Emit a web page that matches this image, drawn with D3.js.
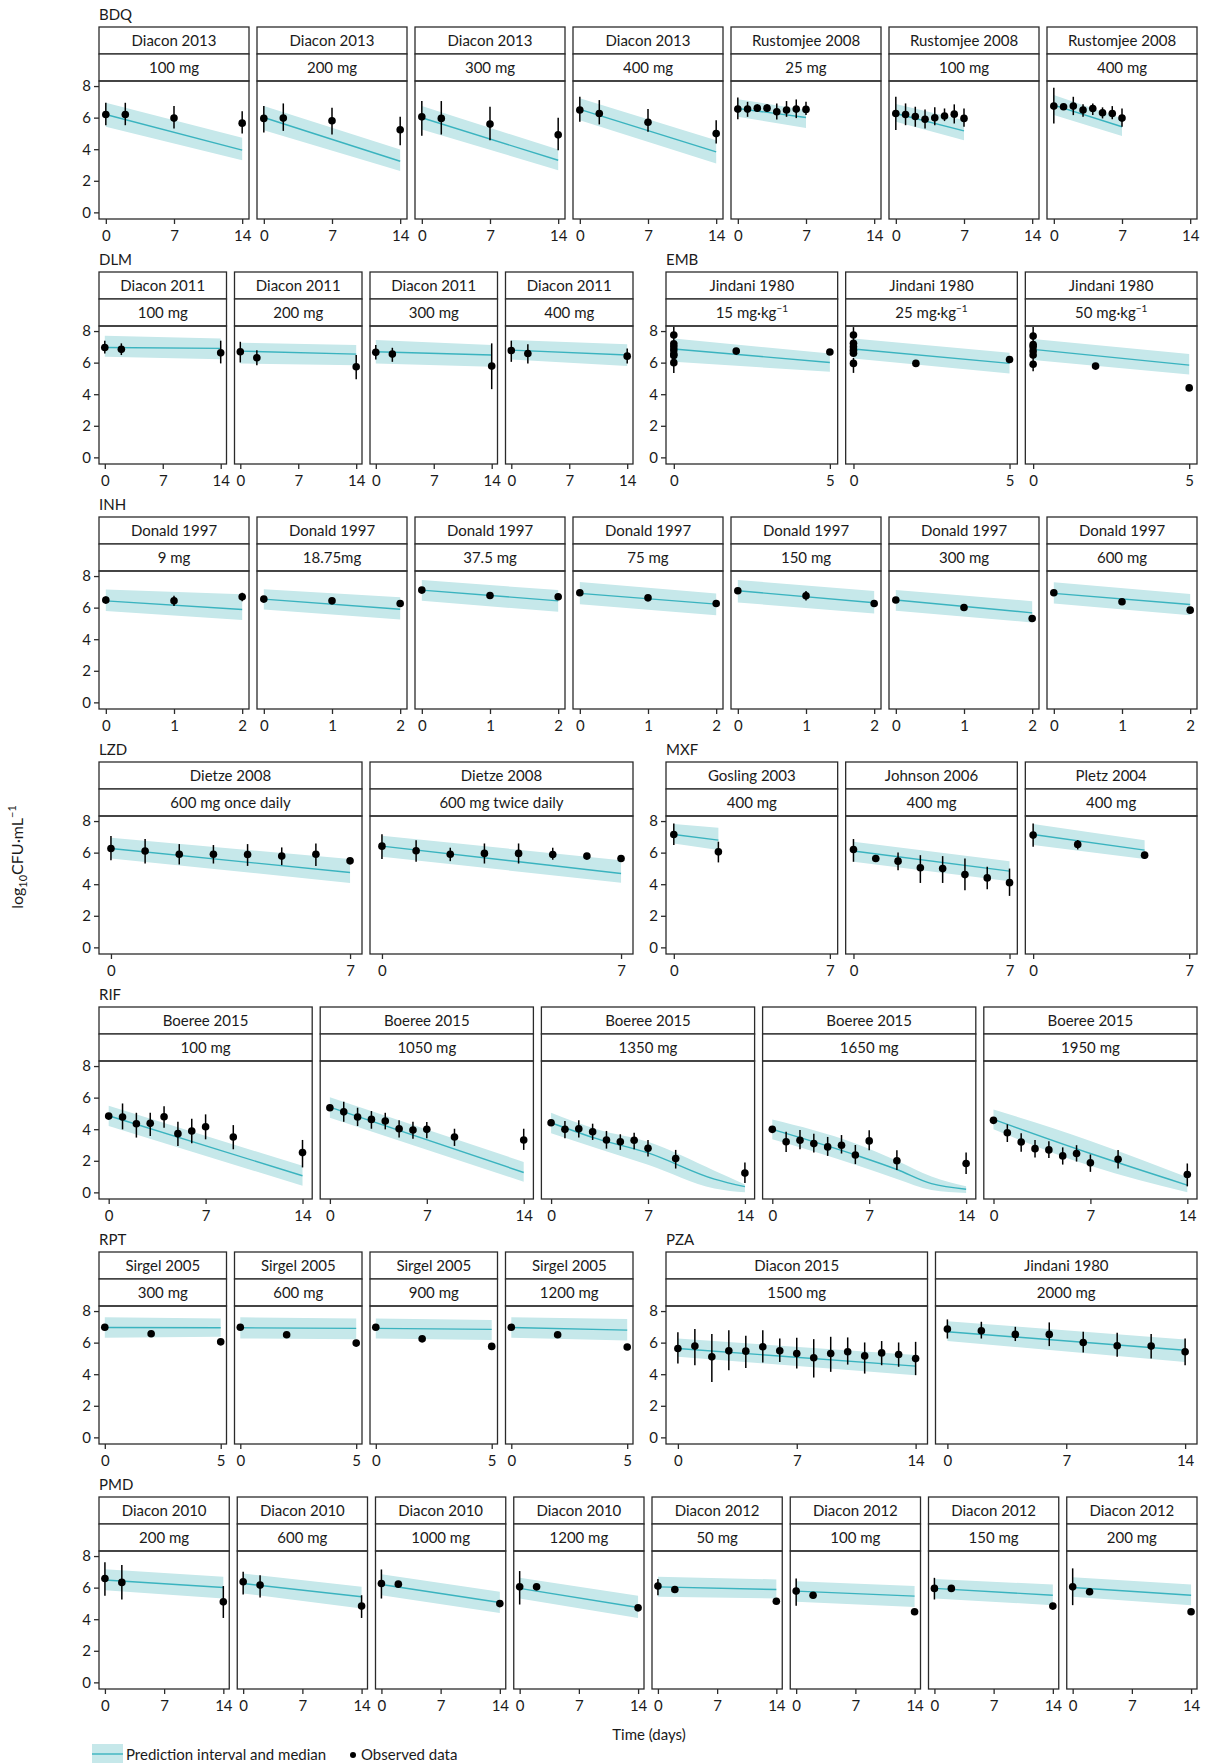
<!DOCTYPE html>
<html><head><meta charset="utf-8">
<script src="https://cdn.jsdelivr.net/npm/d3@7"></script>
<style>
body{margin:0;background:#fff}
svg{display:block}
text{font-family:Lato,"Liberation Sans",sans-serif;fill:#1a1a1a}
</style>
</head><body>
<svg id="c" width="1206" height="1763"></svg>
<script>
// ---------------- DATA ----------------
// obs: [day, value, low, high]   pred: [day, lower, median, upper]  (log10 CFU/mL)
const yTicks = [0, 2, 4, 6, 8];
const ticks14 = [0, 7, 14], ticks7 = [0, 7], ticks5 = [0, 5], ticks2 = [0, 1, 2];

const BDQ = [
  {study:"Diacon 2013", dose:"100 mg", xTicks:ticks14,
   obs:[[0,6.2,5.52,6.94],[2,6.2,5.52,6.94],[7,5.97,5.31,6.73],[14,5.65,4.99,6.41]],
   pred:[[0,5.42,6.2,6.94],[14,3.3,3.94,4.72]]},
  {study:"Diacon 2013", dose:"200 mg", xTicks:ticks14,
   obs:[[0,5.95,5.06,6.73],[2,5.97,5.16,6.9],[7,5.8,4.93,6.62],[14,5.23,4.25,6.05]],
   pred:[[0,5.2,6.01,6.73],[14,2.62,3.24,3.98]]},
  {study:"Diacon 2013", dose:"300 mg", xTicks:ticks14,
   obs:[[0,6.05,4.85,7.05],[2,5.95,4.93,7.05],[7,5.59,4.57,6.69],[14,4.91,3.94,5.99]],
   pred:[[0,5.25,5.99,6.73],[14,2.67,3.3,3.98]]},
  {study:"Diacon 2013", dose:"400 mg", xTicks:ticks14,
   obs:[[0,6.48,5.74,7.32],[2,6.26,5.57,7.11],[7,5.71,5.1,6.54],[14,4.99,4.36,5.84]],
   pred:[[0,5.84,6.52,7.22],[14,3.09,3.83,4.57]]},
  {study:"Rustomjee 2008", dose:"25 mg", xTicks:ticks14,
   obs:[[0,6.54,5.9,7.28],[1,6.54,6.05,7.0],[2,6.6,6.37,6.84],[3,6.6,6.37,6.84],[4,6.37,5.88,6.9],[5,6.48,6.05,7.05],[6,6.54,5.97,7.15],[7,6.52,6.16,7.0]],
   pred:[[0,6.05,6.58,7.17],[7,5.35,6.01,6.48]]},
  {study:"Rustomjee 2008", dose:"100 mg", xTicks:ticks14,
   obs:[[0,6.26,5.21,7.32],[1,6.2,5.52,6.9],[2,6.07,5.42,6.69],[3,5.9,5.31,6.52],[4,5.99,5.52,6.65],[5,6.1,5.78,6.58],[6,6.22,5.63,6.84],[7,5.95,5.42,6.58]],
   pred:[[0,5.74,6.26,6.86],[7,4.57,5.16,5.84]]},
  {study:"Rustomjee 2008", dose:"400 mg", xTicks:ticks14,
   obs:[[0,6.73,5.63,7.89],[1,6.69,6.6,6.8],[2,6.73,6.16,7.32],[3,6.48,6.05,6.84],[4,6.58,6.16,6.9],[5,6.31,5.95,6.65],[6,6.26,5.9,6.73],[7,5.97,5.42,6.58]],
   pred:[[0,6.16,6.79,7.43],[7,4.83,5.42,5.95]]}
];

const DLM = [
  {study:"Diacon 2011", dose:"100 mg", xTicks:ticks14,
   obs:[[0,6.96,6.58,7.39],[2,6.84,6.48,7.22],[14,6.62,5.95,7.39]],
   pred:[[0,6.37,6.96,7.7],[14,6.22,6.9,7.53]]},
  {study:"Diacon 2011", dose:"200 mg", xTicks:ticks14,
   obs:[[0,6.69,6.01,7.32],[2,6.31,5.84,6.79],[14,5.74,4.95,6.48]],
   pred:[[0,5.95,6.73,7.26],[14,5.84,6.54,7.11]]},
  {study:"Diacon 2011", dose:"300 mg", xTicks:ticks14,
   obs:[[0,6.65,6.2,7.11],[2,6.54,6.05,6.94],[14,5.78,4.32,7.22]],
   pred:[[0,5.95,6.69,7.43],[14,5.74,6.48,7.11]]},
  {study:"Diacon 2011", dose:"400 mg", xTicks:ticks14,
   obs:[[0,6.77,6.05,7.39],[2,6.58,5.95,7.17],[14,6.41,5.95,6.9]],
   pred:[[0,6.2,6.79,7.43],[14,5.78,6.48,7.17]]}
];

const EMB = [
  {study:"Jindani 1980", dose:"15 mg·kg⁻¹", xTicks:ticks5,
   obs:[[0,7.75,7.3,8.27],[0,7.2,7.2,7.2],[0,7.0,7.0,7.0],[0,6.8,6.8,6.8],[0,6.55,6.55,6.55],[0,6.45,6.45,6.45],[0,6.0,5.35,6.4],[2,6.73,6.73,6.73],[5,6.67,6.67,6.67]],
   pred:[[0,6.05,6.86,7.53],[5,5.42,6.01,6.58]]},
  {study:"Jindani 1980", dose:"25 mg·kg⁻¹", xTicks:ticks5,
   obs:[[0,7.75,7.3,8.25],[0,7.22,7.22,7.22],[0,7.0,7.0,7.0],[0,6.79,6.79,6.79],[0,6.6,6.6,6.6],[0,5.95,5.35,6.3],[2,5.95,5.95,5.95],[5,6.2,6.2,6.2]],
   pred:[[0,6.26,6.86,7.53],[5,5.31,5.95,6.62]]},
  {study:"Jindani 1980", dose:"50 mg·kg⁻¹", xTicks:ticks5,
   obs:[[0,7.68,7.3,8.25],[0,7.15,7.15,7.15],[0,7.0,7.0,7.0],[0,6.73,6.73,6.73],[0,6.48,6.48,6.48],[0,5.9,5.45,6.3],[2,5.78,5.78,5.78],[5,4.4,4.4,4.4]],
   pred:[[0,6.16,6.84,7.49],[5,5.25,5.84,6.54]]}
];

const INH = [
  {study:"Donald 1997", dose:"9 mg", xTicks:ticks2,
   obs:[[0,6.48,6.25,6.7],[1,6.43,6.1,6.75],[2,6.69,6.4,6.95]],
   pred:[[0,5.78,6.43,7.15],[2,5.21,5.88,6.84]]},
  {study:"Donald 1997", dose:"18.75mg", xTicks:ticks2,
   obs:[[0,6.54,6.54,6.54],[1,6.43,6.43,6.43],[2,6.26,6.26,6.26]],
   pred:[[0,5.88,6.54,7.17],[2,5.25,5.9,6.65]]},
  {study:"Donald 1997", dose:"37.5 mg", xTicks:ticks2,
   obs:[[0,7.11,7.11,7.11],[1,6.77,6.77,6.77],[2,6.69,6.69,6.69]],
   pred:[[0,6.43,7.11,7.75],[2,5.74,6.43,7.11]]},
  {study:"Donald 1997", dose:"75 mg", xTicks:ticks2,
   obs:[[0,6.94,6.94,6.94],[1,6.62,6.62,6.62],[2,6.26,6.26,6.26]],
   pred:[[0,6.22,6.9,7.62],[2,5.52,6.22,6.9]]},
  {study:"Donald 1997", dose:"150 mg", xTicks:ticks2,
   obs:[[0,7.07,7.07,7.07],[1,6.75,6.45,7.05],[2,6.26,6.26,6.26]],
   pred:[[0,6.33,7.07,7.75],[2,5.63,6.31,7.05]]},
  {study:"Donald 1997", dose:"300 mg", xTicks:ticks2,
   obs:[[0,6.48,6.48,6.48],[1,6.01,6.01,6.01],[2,5.31,5.31,5.31]],
   pred:[[0,5.8,6.48,7.11],[2,5.06,5.67,6.41]]},
  {study:"Donald 1997", dose:"600 mg", xTicks:ticks2,
   obs:[[0,6.94,6.94,6.94],[1,6.37,6.37,6.37],[2,5.84,5.84,5.84]],
   pred:[[0,6.26,6.9,7.6],[2,5.52,6.2,6.86]]}
];

const LZD = [
  {study:"Dietze 2008", dose:"600 mg once daily", xTicks:ticks7,
   obs:[[0,6.26,5.52,7.05],[1,6.1,5.31,6.86],[2,5.9,5.25,6.54],[3,5.9,5.31,6.48],[4,5.88,5.16,6.54],[5,5.78,5.21,6.33],[6,5.9,5.16,6.58],[7,5.48,5.4,5.6]],
   pred:[[0,5.63,6.26,6.94],[7,4.08,4.74,5.59]]},
  {study:"Dietze 2008", dose:"600 mg twice daily", xTicks:ticks7,
   obs:[[0,6.41,5.59,7.17],[1,6.12,5.42,6.79],[2,5.9,5.46,6.31],[3,5.95,5.31,6.58],[4,5.95,5.31,6.58],[5,5.88,5.55,6.31],[6,5.78,5.6,5.95],[7,5.63,5.55,5.75]],
   pred:[[0,5.74,6.41,7.07],[7,4.1,4.68,5.52]]}
];

const MXF = [
  {study:"Gosling 2003", dose:"400 mg", xTicks:ticks7,
   obs:[[0,7.15,6.48,7.85],[2,6.05,5.38,6.69]],
   pred:[[0,6.58,7.15,7.81],[2,6.16,6.79,7.58]]},
  {study:"Johnson 2006", dose:"400 mg", xTicks:ticks7,
   obs:[[0,6.2,5.42,6.86],[1,5.63,5.55,5.75],[2,5.46,4.89,6.01],[3,5.04,4.08,5.84],[4,4.99,4.08,5.78],[5,4.61,3.62,5.63],[6,4.4,3.68,5.1],[7,4.1,3.26,4.99]],
   pred:[[0,5.42,6.1,6.69],[7,4.19,4.83,5.46]]},
  {study:"Pletz 2004", dose:"400 mg", xTicks:ticks7,
   obs:[[0,7.11,6.37,7.85],[2,6.52,6.2,6.8],[5,5.84,5.6,6.05]],
   pred:[[0,6.48,7.15,7.81],[5,5.59,6.16,6.79]]}
];

const RIF = [
  {study:"Boeree 2015", dose:"100 mg", xTicks:ticks14,
   obs:[[0,4.83,4.7,4.95],[1,4.77,3.99,5.63],[2,4.35,3.47,5.04],[3,4.37,3.57,5.04],[4,4.79,4.1,5.46],[5,3.72,2.94,4.47],[6,3.89,3.11,4.66],[7,4.16,3.36,4.94],[9,3.51,2.73,4.26],[14,2.52,1.58,3.32]],
   pred:[[0,4.2,4.85,5.48],[14,0.42,1.05,1.68]]},
  {study:"Boeree 2015", dose:"1050 mg", xTicks:ticks14,
   obs:[[0,5.36,5.25,5.5],[1,5.1,4.47,5.74],[2,4.77,4.2,5.36],[3,4.62,4.03,5.15],[4,4.52,3.99,5.04],[5,4.03,3.47,4.56],[6,3.95,3.4,4.47],[7,3.99,3.42,4.45],[9,3.51,2.94,4.03],[14,3.32,2.69,4.03]],
   pred:[[0,4.73,5.4,6.03],[14,0.67,1.26,1.93]]},
  {study:"Boeree 2015", dose:"1350 mg", xTicks:ticks14,
   obs:[[0,4.41,4.3,4.55],[1,3.99,3.42,4.52],[2,4.03,3.47,4.56],[3,3.84,3.32,4.35],[4,3.32,2.77,3.89],[5,3.21,2.69,3.68],[6,3.3,2.73,3.78],[7,2.79,2.27,3.32],[9,2.14,1.51,2.69],[14,1.22,0.59,1.89]],
   pred:[[0,3.74,4.41,5.04],[3.3,2.8,3.4,4.0],[7,1.75,2.5,3.2],[11.8,0.25,0.84,1.37],[14,0.0,0.36,0.5]]},
  {study:"Boeree 2015", dose:"1650 mg", xTicks:ticks14,
   obs:[[0,3.99,3.9,4.1],[1,3.21,2.56,3.84],[2,3.3,2.73,3.95],[3,3.09,2.52,3.72],[4,2.88,2.31,3.51],[5,2.98,2.46,3.63],[6,2.37,1.79,3.0],[7,3.26,2.67,3.93],[9,2.0,1.41,2.67],[14,1.83,1.16,2.52]],
   pred:[[0,3.36,3.99,4.62],[6,1.75,2.37,3.1],[9,0.85,1.45,2.0],[11.5,0.15,0.55,1.0],[14,-0.04,0.2,0.38]]},
  {study:"Boeree 2015", dose:"1950 mg", xTicks:ticks14,
   obs:[[0,4.56,4.45,4.65],[1,3.78,3.19,4.31],[2,3.19,2.58,3.74],[3,2.77,2.21,3.32],[4,2.69,2.17,3.23],[5,2.31,1.76,2.85],[6,2.46,1.95,2.99],[7,1.87,1.3,2.4],[9,2.1,1.51,2.69],[14,1.13,0.38,1.83]],
   pred:[[0,3.99,4.62,5.25],[7,1.68,2.46,3.26],[14,0.0,0.46,0.95]]}
];

const RPT = [
  {study:"Sirgel 2005", dose:"300 mg", xTicks:ticks5,
   obs:[[0,6.97,6.97,6.97],[2,6.56,6.56,6.56],[5,6.05,6.05,6.05]],
   pred:[[0,6.31,6.96,7.6],[5,6.37,6.94,7.53]]},
  {study:"Sirgel 2005", dose:"600 mg", xTicks:ticks5,
   obs:[[0,6.97,6.97,6.97],[2,6.5,6.5,6.5],[5,5.97,5.97,5.97]],
   pred:[[0,6.26,6.94,7.6],[5,6.22,6.9,7.53]]},
  {study:"Sirgel 2005", dose:"900 mg", xTicks:ticks5,
   obs:[[0,6.97,6.97,6.97],[2,6.24,6.24,6.24],[5,5.76,5.76,5.76]],
   pred:[[0,6.26,6.9,7.53],[5,6.16,6.84,7.43]]},
  {study:"Sirgel 2005", dose:"1200 mg", xTicks:ticks5,
   obs:[[0,6.97,6.97,6.97],[2,6.5,6.5,6.5],[5,5.72,5.72,5.72]],
   pred:[[0,6.31,6.96,7.6],[5,6.14,6.79,7.49]]}
];

const PZA = [
  {study:"Diacon 2015", dose:"1500 mg", xTicks:ticks14,
   obs:[[0,5.63,4.68,6.65],[1,5.78,4.57,6.86],[2,5.1,3.51,6.54],[3,5.48,4.25,6.79],[4,5.46,4.4,6.43],[5,5.74,4.74,6.79],[6,5.48,4.78,6.26],[7,5.31,4.36,6.31],[8,5.04,3.79,6.22],[9,5.31,4.15,6.37],[10,5.42,4.61,6.33],[11,5.16,4.04,6.01],[12,5.35,4.57,6.1],[13,5.25,4.47,6.01],[14,4.99,3.94,6.05]],
   pred:[[0,5.1,5.63,6.26],[14,3.94,4.51,5.21]]},
  {study:"Jindani 1980", dose:"2000 mg", xTicks:ticks14,
   obs:[[0,6.86,6.26,7.47],[2,6.75,6.26,7.32],[4,6.52,6.1,7.0],[6,6.52,5.78,7.28],[8,6.01,5.38,6.69],[10,5.8,5.1,6.62],[12,5.78,4.99,6.54],[14,5.42,4.57,6.26]],
   pred:[[0,6.1,6.69,7.36],[14,4.78,5.52,6.2]]}
];

const PMD = [
  {study:"Diacon 2010", dose:"200 mg", xTicks:ticks14,
   obs:[[0,6.58,5.48,7.6],[2,6.33,5.25,7.43],[14,5.1,4.08,6.1]],
   pred:[[0,5.84,6.48,7.17],[14,5.31,6.01,6.69]]},
  {study:"Diacon 2010", dose:"600 mg", xTicks:ticks14,
   obs:[[0,6.37,5.57,7.0],[2,6.16,5.38,6.79],[14,4.83,4.08,5.52]],
   pred:[[0,5.63,6.26,6.9],[14,4.68,5.42,6.05]]},
  {study:"Diacon 2010", dose:"1000 mg", xTicks:ticks14,
   obs:[[0,6.26,5.31,7.15],[2,6.22,6.22,6.22],[14,4.99,4.99,4.99]],
   pred:[[0,5.52,6.2,6.84],[14,4.4,5.06,5.74]]},
  {study:"Diacon 2010", dose:"1200 mg", xTicks:ticks14,
   obs:[[0,6.05,4.93,7.05],[2,6.05,6.05,6.05],[14,4.72,4.72,4.72]],
   pred:[[0,5.31,5.95,6.62],[14,4.08,4.74,5.48]]},
  {study:"Diacon 2012", dose:"50 mg", xTicks:ticks14,
   obs:[[0,6.1,5.52,6.54],[2,5.88,5.88,5.88],[14,5.14,5.14,5.14]],
   pred:[[0,5.42,6.05,6.69],[14,5.31,5.88,6.52]]},
  {study:"Diacon 2012", dose:"100 mg", xTicks:ticks14,
   obs:[[0,5.78,4.85,6.58],[2,5.52,5.52,5.52],[14,4.47,4.47,4.47]],
   pred:[[0,5.1,5.78,6.41],[14,4.78,5.46,6.1]]},
  {study:"Diacon 2012", dose:"150 mg", xTicks:ticks14,
   obs:[[0,5.95,5.25,6.62],[2,5.95,5.95,5.95],[14,4.83,4.83,4.83]],
   pred:[[0,5.31,5.95,6.54],[14,4.89,5.52,6.2]]},
  {study:"Diacon 2012", dose:"200 mg", xTicks:ticks14,
   obs:[[0,6.05,4.89,7.22],[2,5.74,5.74,5.74],[14,4.47,4.47,4.47]],
   pred:[[0,5.42,6.01,6.65],[14,4.89,5.52,6.2]]}
];

// ---------------- LAYOUT ----------------
const layout = [
  [{drug:"BDQ", panels:BDQ, block:"full"}],
  [{drug:"DLM", panels:DLM, block:"left"}, {drug:"EMB", panels:EMB, block:"right"}],
  [{drug:"INH", panels:INH, block:"full"}],
  [{drug:"LZD", panels:LZD, block:"left"}, {drug:"MXF", panels:MXF, block:"right"}],
  [{drug:"RIF", panels:RIF, block:"full"}],
  [{drug:"RPT", panels:RPT, block:"left"}, {drug:"PZA", panels:PZA, block:"right"}],
  [{drug:"PMD", panels:PMD, block:"full"}]
];
const blocks = {full:[99,1197], left:[99,633], right:[666,1197]};
const ROW0 = 27, ROWSTEP = 245, STRIP = 27, PLOT_H = 138, GAP = 8;
const BAND = "#c6e8ea", LINE = "#3ab3bf", BORDER = "#2b2b2b";
const FS = 15;

const svg = d3.select("#c");

function stripText(g, str, x, y) {
  const t = g.append("text").attr("x", x).attr("y", y).attr("text-anchor","middle").attr("font-size", FS);
  if (str.endsWith("⁻¹")) {
    t.append("tspan").text(str.slice(0, -2));
    t.append("tspan").attr("dy", -6).attr("font-size", 10).text("−1");
  } else t.text(str);
}

layout.forEach((row, r) => {
  const top = ROW0 + r * ROWSTEP;
  row.forEach(grp => {
    const [bx0, bx1] = blocks[grp.block];
    const n = grp.panels.length;
    const w = (bx1 - bx0 - GAP * (n - 1)) / n;
    svg.append("text").attr("x", bx0).attr("y", top - 7).attr("font-size", FS).text(grp.drug);
    grp.panels.forEach((p, i) => {
      const x0 = bx0 + i * (w + GAP);
      const g = svg.append("g").attr("transform", `translate(${x0},${top})`);
      // strips
      [p.study, p.dose].forEach((s, k) => {
        g.append("rect").attr("x", 0).attr("y", k * STRIP).attr("width", w).attr("height", STRIP)
          .attr("fill", "#fff").attr("stroke", BORDER).attr("stroke-width", 1.3);
        stripText(g, s, w / 2, k * STRIP + STRIP / 2 + 5);
      });
      const py0 = 2 * STRIP;
      const xmax = p.xTicks[p.xTicks.length - 1];
      const x = d3.scaleLinear().domain([-0.05 * xmax, 1.05 * xmax]).range([0, w]);
      const y = d3.scaleLinear().domain([-0.42, 8.32]).range([py0 + PLOT_H, py0]);
      const pg = g.append("g");
      // prediction band
      pg.append("path").datum(p.pred)
        .attr("d", d3.area().curve(d3.curveMonotoneX).x(d => x(d[0])).y0(d => y(d[1])).y1(d => y(d[3])))
        .attr("fill", BAND).attr("stroke", "none");
      pg.append("path").datum(p.pred)
        .attr("d", d3.line().curve(d3.curveMonotoneX).x(d => x(d[0])).y(d => y(d[2])))
        .attr("fill", "none").attr("stroke", LINE).attr("stroke-width", 1.4);
      // observations
      pg.selectAll("line.err").data(p.obs.filter(d => d[3] - d[2] > 0.05)).join("line")
        .attr("x1", d => x(d[0])).attr("x2", d => x(d[0]))
        .attr("y1", d => y(d[2])).attr("y2", d => y(d[3]))
        .attr("stroke", "#000").attr("stroke-width", 1.5);
      pg.selectAll("circle").data(p.obs).join("circle")
        .attr("cx", d => x(d[0])).attr("cy", d => y(d[1])).attr("r", 3.8).attr("fill", "#000");
      // border
      g.append("rect").attr("x", 0).attr("y", py0).attr("width", w).attr("height", PLOT_H)
        .attr("fill", "none").attr("stroke", BORDER).attr("stroke-width", 1.3);
      // x axis
      const xa = g.append("g").attr("transform", `translate(0,${py0 + PLOT_H})`)
        .call(d3.axisBottom(x).tickValues(p.xTicks).tickFormat(d3.format("d")).tickSize(5).tickPadding(6));
      xa.select(".domain").remove();
      xa.selectAll("line").attr("stroke", BORDER).attr("stroke-width", 1.3);
      xa.selectAll("text").attr("font-size", FS).attr("font-family", null).attr("fill", "#1a1a1a");
      // y axis on first panel of block
      if (i === 0) {
        const ya = g.append("g").call(d3.axisLeft(y).tickValues(yTicks).tickSize(5).tickPadding(3));
        ya.select(".domain").remove();
        ya.selectAll("line").attr("stroke", BORDER).attr("stroke-width", 1.3);
        ya.selectAll("text").attr("font-size", FS).attr("font-family", null).attr("fill", "#1a1a1a");
      }
    });
  });
});

// y axis title
const yt = svg.append("text").attr("transform", "translate(23,857) rotate(-90)")
  .attr("text-anchor", "middle").attr("font-size", 16);
yt.append("tspan").text("log");
yt.append("tspan").attr("dy", 4).attr("font-size", 11).text("10");
yt.append("tspan").attr("dy", -4).text("CFU·mL");
yt.append("tspan").attr("dy", -7).attr("font-size", 11).text("−1");

// x axis title
svg.append("text").attr("x", 649).attr("y", 1740).attr("text-anchor", "middle").attr("font-size", FS).text("Time (days)");

// legend
svg.append("rect").attr("x", 92).attr("y", 1744).attr("width", 31).attr("height", 20).attr("fill", BAND);
svg.append("line").attr("x1", 92).attr("x2", 123).attr("y1", 1754).attr("y2", 1754).attr("stroke", LINE).attr("stroke-width", 1.4);
svg.append("text").attr("x", 126).attr("y", 1760).attr("font-size", FS).text("Prediction interval and median");
svg.append("circle").attr("cx", 353).attr("cy", 1755).attr("r", 3).attr("fill", "#000");
svg.append("text").attr("x", 361).attr("y", 1760).attr("font-size", FS).text("Observed data");
</script>
</body></html>
